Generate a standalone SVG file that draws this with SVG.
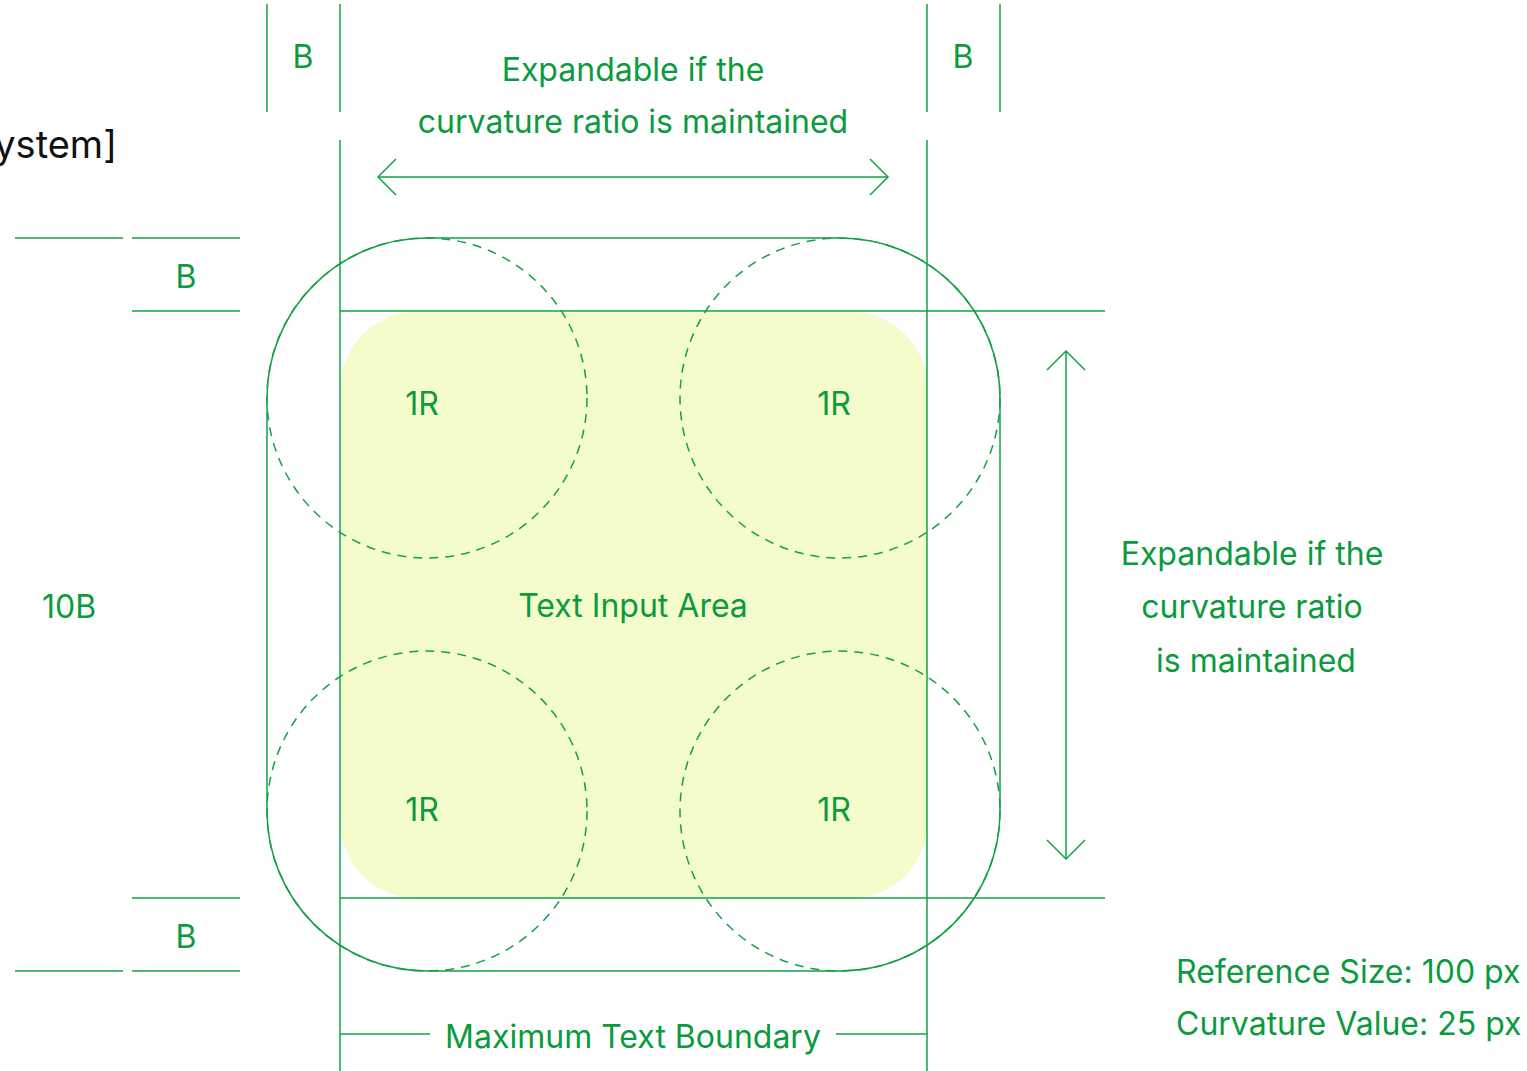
<svg xmlns="http://www.w3.org/2000/svg" width="1527" height="1071" viewBox="0 0 1527 1071">
<style>
.ln{stroke:#13a047;stroke-width:1.5;fill:none}
.dash{stroke:#13a047;stroke-width:1.5;fill:none;stroke-dasharray:9 7}
.t{font-family:Inter,"Noto Sans","Liberation Sans",sans-serif;font-size:32px;fill:#0b9a3e}
.m{text-anchor:middle}
</style>
<rect width="1527" height="1071" fill="#ffffff"/>
<text x="117" y="158" style="font-family:Inter,'Noto Sans','Liberation Sans',sans-serif;font-size:38px;fill:#111" text-anchor="end">ystem]</text>
<g id="text-area">
<rect x="341" y="312" width="586" height="586" rx="75" fill="#f4fccc"/>
<text class="t m" x="633" y="617">Text Input Area</text>
</g>
<g id="corner-circles">
<circle class="dash" cx="427" cy="398" r="160"/>
<circle class="dash" cx="840" cy="398" r="160"/>
<circle class="dash" cx="427" cy="811" r="160"/>
<circle class="dash" cx="840" cy="811" r="160"/>
<text class="t m" x="422" y="415">1R</text>
<text class="t m" x="834" y="415">1R</text>
<text class="t m" x="422" y="821">1R</text>
<text class="t m" x="834" y="821">1R</text>
</g>
<g id="outer-shape">
<rect class="ln" x="267" y="238" width="733" height="733" rx="160"/>
</g>
<g id="connectors">
<line class="ln" x1="267" y1="4" x2="267" y2="112"/>
<line class="ln" x1="340" y1="4" x2="340" y2="112"/>
<line class="ln" x1="927" y1="4" x2="927" y2="112"/>
<line class="ln" x1="1000" y1="4" x2="1000" y2="112"/>
<line class="ln" x1="340" y1="140" x2="340" y2="1071"/>
<line class="ln" x1="927" y1="140" x2="927" y2="1071"/>
<line class="ln" x1="340" y1="311" x2="1105" y2="311"/>
<line class="ln" x1="340" y1="898" x2="1105" y2="898"/>
<line class="ln" x1="15" y1="238" x2="123" y2="238"/>
<line class="ln" x1="132" y1="238" x2="240" y2="238"/>
<line class="ln" x1="132" y1="311" x2="240" y2="311"/>
<line class="ln" x1="132" y1="898" x2="240" y2="898"/>
<line class="ln" x1="15" y1="971" x2="123" y2="971"/>
<line class="ln" x1="132" y1="971" x2="240" y2="971"/>
<line class="ln" x1="340" y1="1034" x2="430" y2="1034"/>
<line class="ln" x1="836" y1="1034" x2="927" y2="1034"/>
<line class="ln" x1="378" y1="177" x2="888" y2="177"/>
<polyline class="ln" points="396,159 378,177 396,195"/>
<polyline class="ln" points="870,159 888,177 870,195"/>
<line class="ln" x1="1066" y1="351" x2="1066" y2="859"/>
<polyline class="ln" points="1047,370 1066,351 1085,370"/>
<polyline class="ln" points="1047,840 1066,859 1085,840"/>
</g>
<g id="labels">
<text class="t m" x="303" y="68">B</text>
<text class="t m" x="963" y="68">B</text>
<text class="t m" x="186" y="288">B</text>
<text class="t m" x="186" y="948">B</text>
<text class="t m" x="69" y="618">10B</text>
<text class="t m" x="633" y="81">Expandable if the</text>
<text class="t m" x="633" y="133">curvature ratio is maintained</text>
<text class="t m" x="1252" y="565">Expandable if the</text>
<text class="t m" x="1252" y="618">curvature ratio</text>
<text class="t m" x="1256" y="672">is maintained</text>
<text class="t m" x="633" y="1048">Maximum Text Boundary</text>
<text class="t" x="1176" y="983">Reference Size: 100 px</text>
<text class="t" x="1176" y="1035">Curvature Value: 25 px</text>
</g>
</svg>
